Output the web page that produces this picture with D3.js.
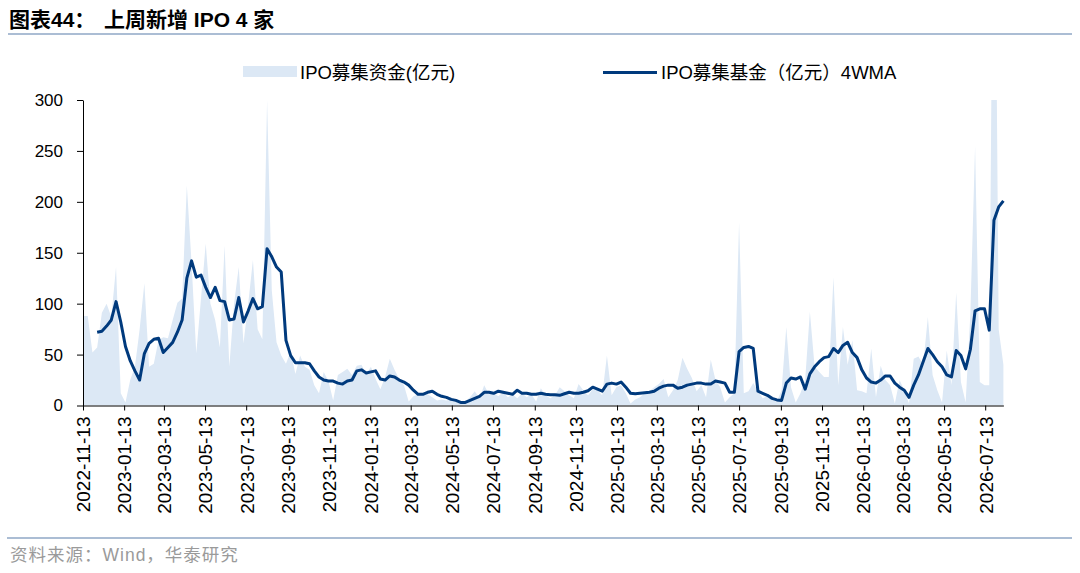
<!DOCTYPE html>
<html>
<head>
<meta charset="utf-8">
<script src="https://cdn.jsdelivr.net/npm/d3@7"></script>
<style>
  body { margin: 0; background: #fff; }
  text { font-family: "Liberation Sans", Arial, "Noto Sans CJK SC", sans-serif; }
</style>
</head>
<body>
<div id="chart"></div>
<script>
// weekly IPO proceeds (亿元), first week 2022-11-13
const firstWeek = '2022-11-13';
const proceeds = [
  88, 88, 52, 57, 91, 100, 87, 136, 12, 3,
  25, 38, 75, 120, 38, 41, 64, 67, 66, 84,
  101, 105, 216, 140, 51, 105, 159, 100, 84, 57,
  157, 38, 100, 136, 61, 100, 143, 75, 65, 300,
  113, 62, 49, 41, 53, 31, 49, 38, 35, 20,
  12, 33, 24, 5, 30, 33, 36, 30, 39, 40,
  31, 38, 26, 16, 28, 46, 35, 26, 20, 4,
  9, 11, 10, 11, 8, 5, 6, 5, 6, 4,
  3, 4, 8, 14, 7, 20, 11, 12, 9, 13,
  8, 11, 7, 12, 8, 11, 4, 17, 10, 7,
  10, 18, 14, 10, 7, 21, 15, 10, 16, 15,
  10, 49, 10, 18, 20, 12, 2, 6, 8, 12,
  14, 18, 21, 26, 8, 15, 25, 47, 36, 27,
  14, 20, 8, 45, 25, 18, 3, 8, 12, 180,
  12, 14, 22, 14, 7, 9, 6, 4, 15, 77,
  18, 3, 12, 25, 92, 38, 33, 28, 28, 126,
  20, 77, 40, 64, 15, 14, 12, 56, 8, 39,
  25, 20, 2, 25, 15, 2, 46, 48, 40, 87,
  30, 15, 3, 54, 20, 111, 23, 3, 90, 255,
  23, 20, 20, 660, 75, 40
];
// 4-week moving average, starts at the 4th week
const wma4 = [
  null, null, null, 72, 73, 78, 84, 102, 82, 58,
  44, 34, 25, 51, 61, 65, 66, 52, 57, 62,
  72, 84, 125, 142, 126, 128, 116, 106, 116, 103,
  102, 84, 85, 106, 82, 93, 105, 95, 97, 154,
  146, 136, 131, 64, 49, 42, 42, 42, 41, 34,
  28, 25, 24, 24, 22, 21, 24, 25, 34, 35,
  32, 33, 34, 26, 25, 29, 28, 25, 23, 20,
  15, 11, 11, 13, 14, 11, 9, 8, 6, 5,
  3, 3, 5, 7, 9, 13, 13, 12, 14, 13,
  12, 11, 15, 12, 12, 11, 11, 12, 11, 10.5,
  10.5, 10, 11.5, 13, 12, 12, 13, 14.5, 18, 16,
  14, 21, 22, 21, 23, 18, 12, 11.5, 12, 12.5,
  13, 14, 17, 19, 20, 20, 17, 18, 20, 21,
  22, 22, 21, 21, 24, 23, 22, 13, 13, 53,
  57, 58, 56, 14, 12, 10, 7, 5.5, 5, 22,
  27, 26, 28, 16, 31, 38, 43, 47, 48, 56,
  52, 59, 62, 52, 47, 35, 27, 23, 22, 25,
  29, 29, 22, 18, 15, 8, 20, 30, 43, 56,
  50, 43, 38, 30, 28, 54, 49, 36, 55, 93,
  95, 95, 74, 182, 195, 201
];
const xTickLabels = [
  '2022-11-13', '2023-01-13', '2023-03-13', '2023-05-13', '2023-07-13', '2023-09-13',
  '2023-11-13', '2024-01-13', '2024-03-13', '2024-05-13', '2024-07-13', '2024-09-13',
  '2024-11-13', '2025-01-13', '2025-03-13', '2025-05-13', '2025-07-13', '2025-09-13',
  '2025-11-13', '2026-01-13', '2026-03-13', '2026-05-13', '2026-07-13'
];
const yTicks = [0, 50, 100, 150, 200, 250, 300];
const seriesNames = ['IPO募集资金(亿元)', 'IPO募集基金（亿元）4WMA'];
const title = '图表44：';
const subtitle = '上周新增 IPO 4 家';
const source = '资料来源：Wind，华泰研究';

(function() {
  let width = 1080;
  let height = 573;
  let left = 83, right = 1003.4, top = 100, bottom = 405.5;
  let parse = d3.timeParse('%Y-%m-%d');
  let start = parse(firstWeek);
  let weeks = proceeds.map((v, i) => d3.timeWeek.offset(start, i));
  let data = proceeds.map((v, i) => ({ date: weeks[i], value: v, avg: wma4[i] }));

  let svg = d3.select('#chart')
    .append('svg')
    .attr('width', width)
    .attr('height', height);

  let x = d3.scaleTime()
    .domain([start, weeks[weeks.length - 1]])
    .range([left, right]);
  let y = d3.scaleLinear().domain([0, 300]).range([bottom, top]);

  // header
  svg.append('text')
    .attr('x', 9).attr('y', 27)
    .attr('font-size', 21).attr('font-weight', 'bold')
    .attr('fill', '#000')
    .text(title);
  svg.append('text')
    .attr('x', 104).attr('y', 27)
    .attr('font-size', 21).attr('font-weight', 'bold')
    .attr('fill', '#000')
    .text(subtitle);
  svg.append('line')
    .attr('x1', 8).attr('x2', 1072).attr('y1', 34).attr('y2', 34)
    .attr('stroke', '#8fa7c6').attr('stroke-width', 1.6);

  // legend
  svg.append('rect')
    .attr('x', 243).attr('y', 66).attr('width', 54).attr('height', 11)
    .attr('fill', '#dce8f5');
  svg.append('text')
    .attr('x', 300).attr('y', 78.5)
    .attr('font-size', 18.5).attr('fill', '#000')
    .text(seriesNames[0]);
  svg.append('line')
    .attr('x1', 603).attr('x2', 657).attr('y1', 72.5).attr('y2', 72.5)
    .attr('stroke', '#003a7d').attr('stroke-width', 3);
  svg.append('text')
    .attr('x', 661).attr('y', 78.5)
    .attr('font-size', 18.5).attr('fill', '#000')
    .text(seriesNames[1]);

  // series
  svg.append('clipPath').attr('id', 'plot')
    .append('rect')
    .attr('x', left).attr('y', top)
    .attr('width', right - left + 1).attr('height', bottom - top);

  let area = d3.area()
    .x(d => x(d.date))
    .y0(y(0))
    .y1(d => y(d.value));
  let line = d3.line()
    .defined(d => d.avg != null)
    .x(d => x(d.date))
    .y(d => y(d.avg));

  svg.append('path')
    .datum(data)
    .attr('clip-path', 'url(#plot)')
    .attr('fill', '#dce8f5')
    .attr('d', area);
  svg.append('path')
    .datum(data)
    .attr('fill', 'none')
    .attr('stroke', '#003a7d')
    .attr('stroke-width', 3)
    .attr('stroke-linejoin', 'round')
    .attr('d', line);

  // axes
  let yAxis = svg.append('g')
    .attr('transform', `translate(${left},0)`)
    .call(d3.axisLeft(y).tickValues(yTicks).tickSize(6).tickSizeOuter(0).tickPadding(14));
  yAxis.selectAll('text')
    .attr('font-size', 17).attr('fill', '#000')
    .style('font-family', '"Liberation Sans", Arial, sans-serif');

  let xAxis = svg.append('g')
    .attr('transform', `translate(0,${bottom})`)
    .call(d3.axisBottom(x)
      .tickValues(xTickLabels.map(parse))
      .tickFormat(d3.timeFormat('%Y-%m-%d'))
      .tickSize(5)
      .tickSizeOuter(0));
  xAxis.selectAll('text')
    .attr('transform', 'rotate(-90)')
    .attr('text-anchor', 'end')
    .attr('x', -11)
    .attr('y', 0)
    .attr('dy', '0.36em')
    .attr('font-size', 19).attr('fill', '#000')
    .style('font-family', '"Liberation Sans", Arial, sans-serif');
  svg.selectAll('.domain, .tick line').attr('stroke', '#000');

  // footer
  svg.append('line')
    .attr('x1', 7).attr('x2', 1072).attr('y1', 538).attr('y2', 538)
    .attr('stroke', '#8fa7c6').attr('stroke-width', 1.4);
  svg.append('text')
    .attr('x', 10).attr('y', 561)
    .attr('font-size', 17.5).attr('fill', '#9a9a9a')
    .attr('letter-spacing', 1)
    .text(source);
})();
</script>
</body>
</html>
